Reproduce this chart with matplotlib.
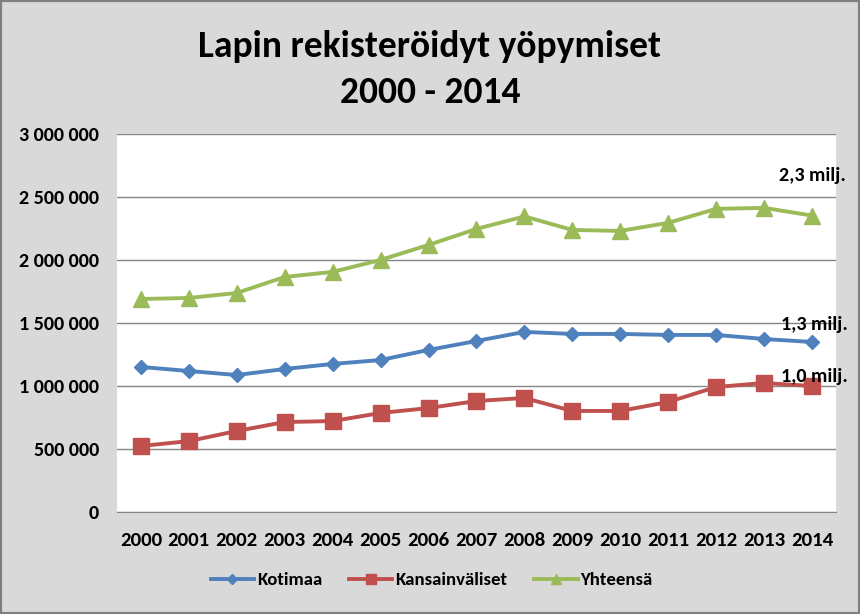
import matplotlib
matplotlib.use("Agg")
import matplotlib.pyplot as plt
from matplotlib.patches import Rectangle
from matplotlib.ticker import FuncFormatter

# Lapin rekisteröidyt yöpymiset 2000-2014 (luettu kuvasta)
vuodet = [str(v) for v in range(2000, 2015)]
kotimaa = [1151000, 1119000, 1087000, 1135000, 1175000, 1206000, 1286000, 1357000,
           1429000, 1413000, 1413000, 1405000, 1405000, 1373000, 1349000]
kansainvaliset = [524000, 563000, 643000, 714000, 722000, 786000, 825000, 881000,
                  905000, 802000, 802000, 873000, 992000, 1024000, 1000000]
yhteensa = [1690000, 1698000, 1738000, 1865000, 1905000, 2000000, 2119000, 2246000,
            2345000, 2238000, 2230000, 2294000, 2405000, 2413000, 2352000]
sarjat = ["Kotimaa", "Kansainväliset", "Yhteensä"]
loppu_tekstit = ["1,3 milj.", "1,0 milj.", "2,3 milj."]

plt.rcParams['font.family'] = ['Carlito', 'DejaVu Sans']
plt.rcParams['font.weight'] = 'bold'

fig = plt.figure(figsize=(8.6, 6.14), dpi=100, facecolor='#d9d9d9')
ax = fig.add_axes([0.136, 0.166, 0.836, 0.616])
ax.set_facecolor('white')

x = list(range(len(vuodet)))
ax.plot(x, kotimaa, color='#4f81bd', lw=2.8, marker='D', ms=7.5, label=sarjat[0])
ax.plot(x, kansainvaliset, color='#c0504d', lw=2.8, marker='s', ms=11, label=sarjat[1])
ax.plot(x, yhteensa, color='#9bbb59', lw=2.8, marker='^', ms=11, label=sarjat[2])

ax.set_xlim(-0.5, len(vuodet) - 0.5)
ax.set_ylim(0, 3000000)
ax.set_yticks(range(0, 3000001, 500000))
ax.yaxis.set_major_formatter(FuncFormatter(lambda v, p: f"{int(v):,}".replace(",", " ")))
ax.set_xticks(x)
ax.set_xticklabels(vuodet)
ax.grid(axis='y', color='#868686', lw=1)
ax.set_axisbelow(True)
for s in ['left', 'right', 'top']:
    ax.spines[s].set_visible(False)
ax.spines['bottom'].set_color('#868686')
ax.tick_params(axis='y', length=0, pad=13, labelsize=14.5)
ax.tick_params(axis='x', length=0, pad=14, labelsize=15)

# loppuarvojen tekstit
ax.text(14, 2667000, loppu_tekstit[2], ha='center', va='center', fontsize=14.5, fontweight='bold')
ax.text(14.05, 1484000, loppu_tekstit[0], ha='center', va='center', fontsize=14.5, fontweight='bold', clip_on=False)
ax.text(14.05, 1079000, loppu_tekstit[1], ha='center', va='center', fontsize=14.5, fontweight='bold', clip_on=False)

fig.text(0.5, 0.907, "Lapin rekisteröidyt yöpymiset", ha='center', va='baseline',
         fontsize=27, fontweight='bold')
fig.text(0.5, 0.833, "2000 - 2014", ha='center', va='baseline', fontsize=27, fontweight='bold')

fig.legend(loc='center', bbox_to_anchor=(0.502, 0.055), ncol=3, frameon=False,
           fontsize=13.5, handlelength=2.3, columnspacing=1.45, handletextpad=0.15,
           markerscale=0.65)

fig.patches.append(Rectangle((0, 0), 1, 1, transform=fig.transFigure, fill=False,
                             edgecolor='#7f7f7f', lw=3))

fig.savefig("out.png", dpi=100, facecolor=fig.get_facecolor())
